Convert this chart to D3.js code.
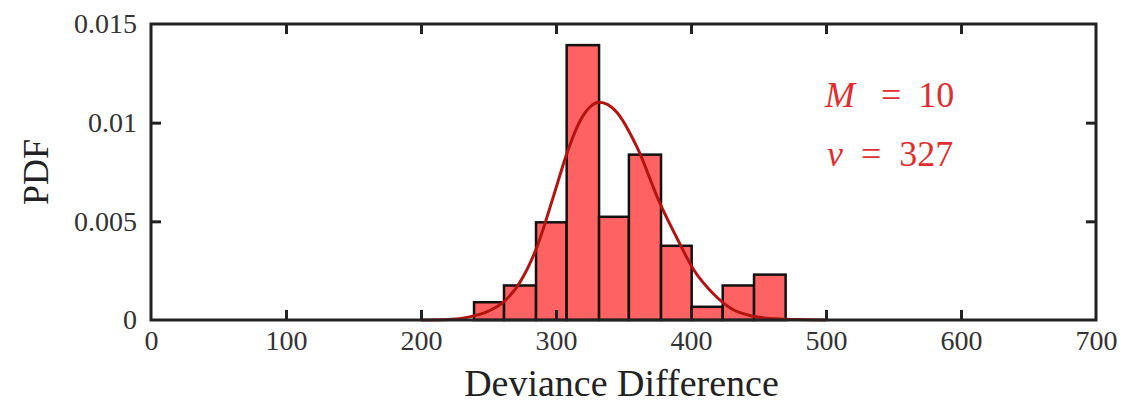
<!DOCTYPE html>
<html>
<head>
<meta charset="utf-8">
<script src="https://cdn.jsdelivr.net/npm/d3@7"></script>
<style>
  html, body { margin: 0; padding: 0; background: #fff; }
  svg { display: block; }
</style>
</head>
<body>
<svg id="chart" width="1126" height="403"></svg>
<script>
// ---- data ----
const binEdges = [239.3, 261.5, 285.2, 307.9, 331.9, 354.0, 377.8, 400.5, 423.5, 446.7, 470.1];
const binDensity = [0.0009, 0.00175, 0.00495, 0.01393, 0.00523, 0.00838, 0.00376, 0.00067, 0.00175, 0.0023];
const curveX = [200, 220, 236, 250, 261, 273, 286, 298, 308, 318, 325, 332, 345, 360, 377, 389, 402, 416, 431, 446, 463, 480, 500];
const curveY = [0, 0.00003, 0.00016, 0.00045, 0.0009, 0.00188, 0.00372, 0.00624, 0.00843, 0.01011, 0.01078, 0.01103, 0.01053, 0.00876, 0.00591, 0.00423, 0.00255, 0.00137, 0.00053, 0.00019, 0.00006, 0.00002, 0];
const xTicks = [0, 100, 200, 300, 400, 500, 600, 700];
const yTicks = [0, 0.005, 0.01, 0.015];
const yTickLabels = ["0", "0.005", "0.01", "0.015"];
const xLabel = "Deviance Difference";
const yLabel = "PDF";
const annoM = "10";
const annoNu = "327";

// ---- layout ----
const L = 151, R = 1096, T = 24, B = 320;
const svg = d3.select("#chart");
const x = d3.scaleLinear().domain([0, 700]).range([L, R]);
const y = d3.scaleLinear().domain([0, 0.015]).range([B, T]);
const font = "'Liberation Serif', 'Times New Roman', serif";
const axisColor = "#222";

// bars
const bins = binDensity.map((d, i) => ({x0: binEdges[i], x1: binEdges[i + 1], v: d}));
svg.append("g").selectAll("rect").data(bins).join("rect")
  .attr("x", d => x(d.x0))
  .attr("width", d => x(d.x1) - x(d.x0))
  .attr("y", d => y(d.v))
  .attr("height", d => y(0) - y(d.v))
  .attr("fill", "#ff6262")
  .attr("stroke", "#111")
  .attr("stroke-width", 2.5);

// fitted curve
const pts = curveX.map((d, i) => [d, curveY[i]]);
svg.append("path")
  .datum(pts)
  .attr("d", d3.line().x(d => x(d[0])).y(d => y(d[1])).curve(d3.curveMonotoneX))
  .attr("fill", "none")
  .attr("stroke", "#b3140f")
  .attr("stroke-width", 3);

// axes (inward ticks on all sides)
function styleAxis(g) {
  g.select(".domain").remove();
  g.selectAll(".tick line").attr("stroke", axisColor).attr("stroke-width", 3);
  g.selectAll(".tick text").attr("fill", "#333").attr("font-family", font).attr("font-size", 28);
}
const xb = svg.append("g").attr("transform", `translate(0,${B})`)
  .call(d3.axisBottom(x).tickValues(xTicks).tickFormat(d3.format("d")).tickSizeInner(-10).tickSizeOuter(0).tickPadding(10));
styleAxis(xb);
xb.selectAll(".tick").filter(d => d === 0 || d === 700).select("line").remove();
const xt = svg.append("g").attr("transform", `translate(0,${T})`)
  .call(d3.axisTop(x).tickValues(xTicks).tickFormat("").tickSizeInner(-10).tickSizeOuter(0));
styleAxis(xt);
xt.selectAll(".tick").filter(d => d === 0 || d === 700).select("line").remove();
const yl = svg.append("g").attr("transform", `translate(${L},0)`)
  .call(d3.axisLeft(y).tickValues(yTicks).tickFormat((d, i) => yTickLabels[i]).tickSizeInner(-10).tickSizeOuter(0).tickPadding(14));
styleAxis(yl);
yl.selectAll(".tick").filter(d => d === 0 || d === 0.015).select("line").remove();
const yr = svg.append("g").attr("transform", `translate(${R},0)`)
  .call(d3.axisRight(y).tickValues(yTicks).tickFormat("").tickSizeInner(-10).tickSizeOuter(0));
styleAxis(yr);
yr.selectAll(".tick").filter(d => d === 0 || d === 0.015).select("line").remove();

// frame
svg.append("rect")
  .attr("x", L).attr("y", T).attr("width", R - L).attr("height", B - T)
  .attr("fill", "none").attr("stroke", axisColor).attr("stroke-width", 3);

// axis labels
svg.append("text")
  .attr("x", (L + R) / 2 - 2).attr("y", 396)
  .attr("text-anchor", "middle")
  .attr("font-family", font).attr("font-size", 38).attr("fill", "#222")
  .text(xLabel);
svg.append("text")
  .attr("transform", `translate(48,${(T + B) / 2}) rotate(-90)`)
  .attr("text-anchor", "middle")
  .attr("font-family", font).attr("font-size", 36).attr("fill", "#222")
  .text(yLabel);

// annotation
const red = "#de2f2f";
const a1 = svg.append("text").attr("x", 825).attr("y", 107)
  .attr("font-family", font).attr("font-size", 36).attr("fill", red);
a1.append("tspan").attr("font-style", "italic").text("M");
a1.append("tspan").attr("dx", 26).text("=");
a1.append("tspan").attr("dx", 17).text(annoM);
const a2 = svg.append("text").attr("x", 827).attr("y", 166)
  .attr("font-family", font).attr("font-size", 36).attr("fill", red);
a2.append("tspan").attr("font-style", "italic").text("ν");
a2.append("tspan").attr("dx", 18).text("=");
a2.append("tspan").attr("dx", 18).text(annoNu);
</script>
</body>
</html>
